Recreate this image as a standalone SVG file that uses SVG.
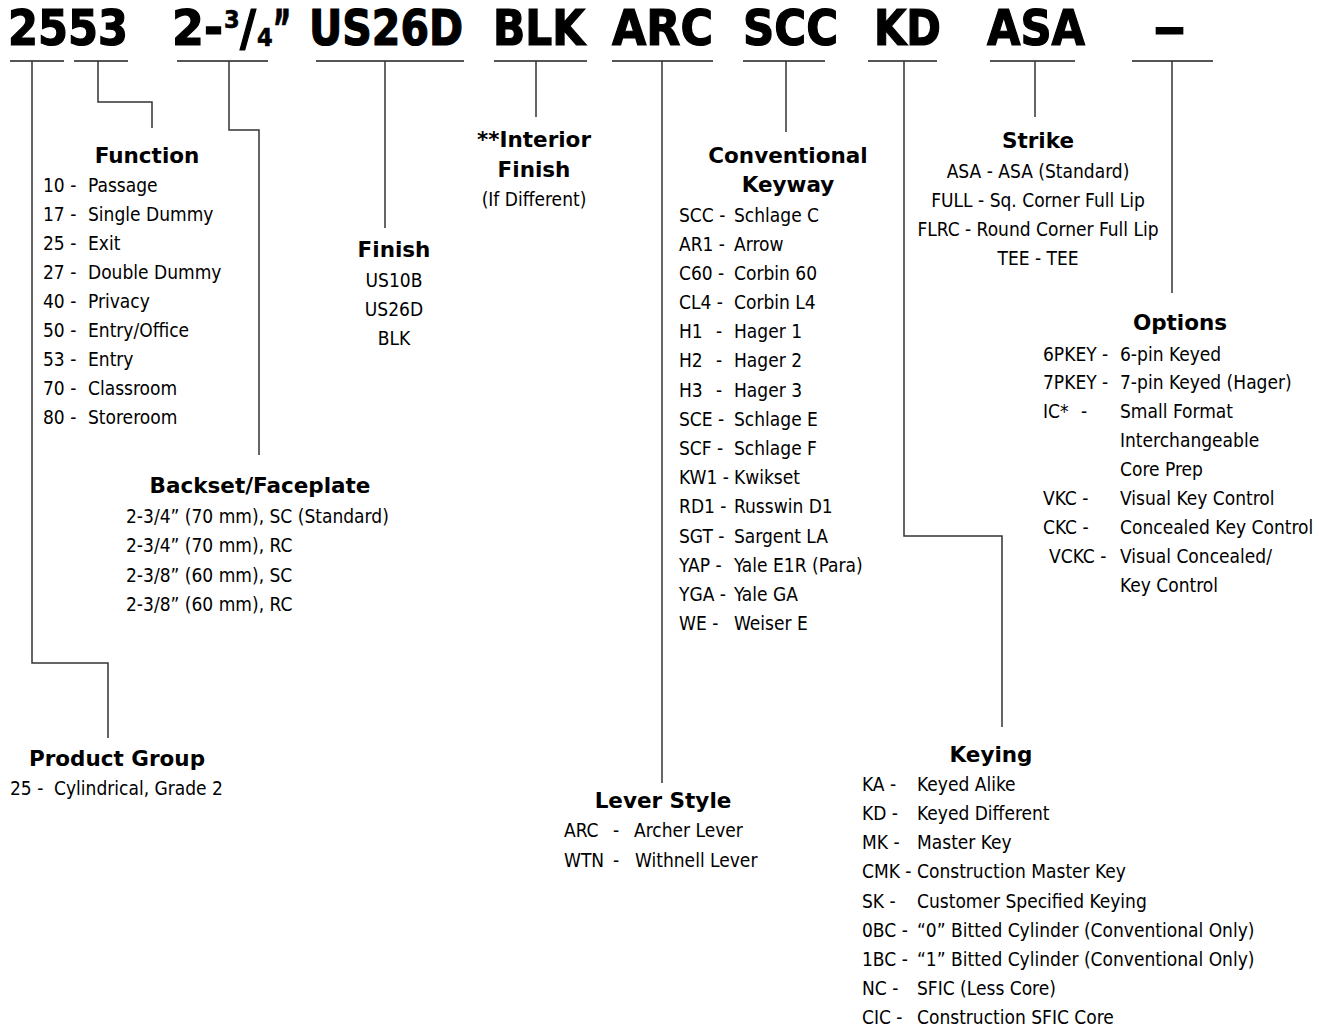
<svg xmlns="http://www.w3.org/2000/svg" width="1319" height="1031" viewBox="0 0 1319 1031">
<style>
.ttl{font-family:"DejaVu Sans Condensed","DejaVu Sans",sans-serif;font-weight:bold;font-size:50px;fill:#000;stroke:#000;stroke-width:1.2}
.sm{font-family:"DejaVu Sans Condensed","DejaVu Sans",sans-serif;font-weight:bold;font-size:25px;fill:#000;stroke:#000;stroke-width:0.6}
.h{font-family:"DejaVu Sans",sans-serif;font-weight:bold;font-size:21.5px;fill:#000;text-anchor:middle}
.t{font-family:"DejaVu Sans Condensed","DejaVu Sans",sans-serif;font-size:19px;fill:#000}
.c{text-anchor:middle}
.ul{stroke:#555;stroke-width:2;fill:none}
.ln{stroke:#333;stroke-width:1.5;fill:none}
</style>
<rect width="1319" height="1031" fill="#fff"/>
<g id="code">
  <text class="ttl" x="8" y="45" textLength="120" lengthAdjust="spacingAndGlyphs">2553</text>
  <text class="ttl" x="172" y="45" textLength="51" lengthAdjust="spacingAndGlyphs">2-</text>
  <text class="sm" x="224" y="28">3</text>
  <text class="ttl" x="240" y="45" textLength="16" lengthAdjust="spacingAndGlyphs">/</text>
  <text class="sm" x="257" y="46">4</text>
  <text class="ttl" x="273" y="45" textLength="18" lengthAdjust="spacingAndGlyphs">”</text>
  <text class="ttl" x="309" y="45" textLength="154" lengthAdjust="spacingAndGlyphs">US26D</text>
  <text class="ttl" x="493" y="45" textLength="92" lengthAdjust="spacingAndGlyphs">BLK</text>
  <text class="ttl" x="612" y="45" textLength="101" lengthAdjust="spacingAndGlyphs">ARC</text>
  <text class="ttl" x="743" y="45" textLength="95" lengthAdjust="spacingAndGlyphs">SCC</text>
  <text class="ttl" x="874" y="45" textLength="67" lengthAdjust="spacingAndGlyphs">KD</text>
  <text class="ttl" x="987" y="45" textLength="98" lengthAdjust="spacingAndGlyphs">ASA</text>
  <text class="ttl" x="1153" y="45" textLength="33" lengthAdjust="spacingAndGlyphs">–</text>
</g>
<g id="connectors">
  <path class="ul" d="M10,61H64M74,61H128M177,61H268M316,61H464M494,61H587M612,61H713M743,61H825M868,61H937M990,61H1075M1132,61H1213"/>
  <path class="ln" d="M32,61V663H108V738"/>
  <path class="ln" d="M98,61V102H152V128"/>
  <path class="ln" d="M229,61V130H259V455"/>
  <path class="ln" d="M385,61V228"/>
  <path class="ln" d="M536,61V117"/>
  <path class="ln" d="M662,61V783"/>
  <path class="ln" d="M786,61V132"/>
  <path class="ln" d="M904,61V536H1002V727"/>
  <path class="ln" d="M1035,61V117"/>
  <path class="ln" d="M1172,61V293"/>
</g>
<g id="function">
  <text class="h" x="147" y="163">Function</text>
  <text class="t" y="192"><tspan x="43">10 -</tspan><tspan x="88">Passage</tspan></text>
  <text class="t" y="221"><tspan x="43">17 -</tspan><tspan x="88">Single Dummy</tspan></text>
  <text class="t" y="250"><tspan x="43">25 -</tspan><tspan x="88">Exit</tspan></text>
  <text class="t" y="279"><tspan x="43">27 -</tspan><tspan x="88">Double Dummy</tspan></text>
  <text class="t" y="308"><tspan x="43">40 -</tspan><tspan x="88">Privacy</tspan></text>
  <text class="t" y="337"><tspan x="43">50 -</tspan><tspan x="88">Entry/Office</tspan></text>
  <text class="t" y="366"><tspan x="43">53 -</tspan><tspan x="88">Entry</tspan></text>
  <text class="t" y="395"><tspan x="43">70 -</tspan><tspan x="88">Classroom</tspan></text>
  <text class="t" y="424"><tspan x="43">80 -</tspan><tspan x="88">Storeroom</tspan></text>
</g>
<g id="backset">
  <text class="h" x="260" y="493">Backset/Faceplate</text>
  <text class="t" x="126" y="523">2-3/4” (70 mm), SC (Standard)</text>
  <text class="t" x="126" y="552">2-3/4” (70 mm), RC</text>
  <text class="t" x="126" y="582">2-3/8” (60 mm), SC</text>
  <text class="t" x="126" y="611">2-3/8” (60 mm), RC</text>
</g>
<g id="product-group">
  <text class="h" x="117" y="766">Product Group</text>
  <text class="t" y="795"><tspan x="10">25 -</tspan><tspan x="54">Cylindrical, Grade 2</tspan></text>
</g>
<g id="finish">
  <text class="h" x="394" y="257">Finish</text>
  <text class="t c" x="394" y="287">US10B</text>
  <text class="t c" x="394" y="316">US26D</text>
  <text class="t c" x="394" y="345">BLK</text>
</g>
<g id="interior-finish">
  <text class="h" x="534" y="147">**Interior</text>
  <text class="h" x="534" y="177">Finish</text>
  <text class="t c" x="534" y="206">(If Different)</text>
</g>
<g id="lever-style">
  <text class="h" x="663" y="808">Lever Style</text>
  <text class="t" y="837"><tspan x="564">ARC</tspan><tspan x="613">-</tspan><tspan x="634">Archer Lever</tspan></text>
  <text class="t" y="867"><tspan x="564">WTN</tspan><tspan x="613">-</tspan><tspan x="635">Withnell Lever</tspan></text>
</g>
<g id="keyway">
  <text class="h" x="788" y="163">Conventional</text>
  <text class="h" x="788" y="192">Keyway</text>
  <text class="t" y="222"><tspan x="679">SCC -</tspan><tspan x="734">Schlage C</tspan></text>
  <text class="t" y="251"><tspan x="679">AR1 -</tspan><tspan x="734">Arrow</tspan></text>
  <text class="t" y="280"><tspan x="679">C60 -</tspan><tspan x="734">Corbin 60</tspan></text>
  <text class="t" y="309"><tspan x="679">CL4 -</tspan><tspan x="734">Corbin L4</tspan></text>
  <text class="t" y="338"><tspan x="679">H1</tspan><tspan x="716">-</tspan><tspan x="734">Hager 1</tspan></text>
  <text class="t" y="367"><tspan x="679">H2</tspan><tspan x="716">-</tspan><tspan x="734">Hager 2</tspan></text>
  <text class="t" y="397"><tspan x="679">H3</tspan><tspan x="716">-</tspan><tspan x="734">Hager 3</tspan></text>
  <text class="t" y="426"><tspan x="679">SCE -</tspan><tspan x="734">Schlage E</tspan></text>
  <text class="t" y="455"><tspan x="679">SCF -</tspan><tspan x="734">Schlage F</tspan></text>
  <text class="t" y="484"><tspan x="679">KW1 -</tspan><tspan x="734">Kwikset</tspan></text>
  <text class="t" y="513"><tspan x="679">RD1 -</tspan><tspan x="734">Russwin D1</tspan></text>
  <text class="t" y="543"><tspan x="679">SGT -</tspan><tspan x="734">Sargent LA</tspan></text>
  <text class="t" y="572"><tspan x="679">YAP -</tspan><tspan x="734">Yale E1R (Para)</tspan></text>
  <text class="t" y="601"><tspan x="679">YGA -</tspan><tspan x="734">Yale GA</tspan></text>
  <text class="t" y="630"><tspan x="679">WE -</tspan><tspan x="734">Weiser E</tspan></text>
</g>
<g id="keying">
  <text class="h" x="991" y="762">Keying</text>
  <text class="t" y="791"><tspan x="862">KA -</tspan><tspan x="917">Keyed Alike</tspan></text>
  <text class="t" y="820"><tspan x="862">KD -</tspan><tspan x="917">Keyed Different</tspan></text>
  <text class="t" y="849"><tspan x="862">MK -</tspan><tspan x="917">Master Key</tspan></text>
  <text class="t" y="878"><tspan x="862">CMK -</tspan><tspan x="917">Construction Master Key</tspan></text>
  <text class="t" y="908"><tspan x="862">SK -</tspan><tspan x="917">Customer Specified Keying</tspan></text>
  <text class="t" y="937"><tspan x="862">0BC -</tspan><tspan x="917">“0” Bitted Cylinder (Conventional Only)</tspan></text>
  <text class="t" y="966"><tspan x="862">1BC -</tspan><tspan x="917">“1” Bitted Cylinder (Conventional Only)</tspan></text>
  <text class="t" y="995"><tspan x="862">NC -</tspan><tspan x="917">SFIC (Less Core)</tspan></text>
  <text class="t" y="1024"><tspan x="862">CIC -</tspan><tspan x="917">Construction SFIC Core</tspan></text>
</g>
<g id="strike">
  <text class="h" x="1038" y="148">Strike</text>
  <text class="t c" x="1038" y="178">ASA - ASA (Standard)</text>
  <text class="t c" x="1038" y="207">FULL - Sq. Corner Full Lip</text>
  <text class="t c" x="1038" y="236">FLRC - Round Corner Full Lip</text>
  <text class="t c" x="1038" y="265">TEE - TEE</text>
</g>
<g id="options">
  <text class="h" x="1180" y="330">Options</text>
  <text class="t" y="361"><tspan x="1043">6PKEY -</tspan><tspan x="1120">6-pin Keyed</tspan></text>
  <text class="t" y="389"><tspan x="1043">7PKEY -</tspan><tspan x="1120">7-pin Keyed (Hager)</tspan></text>
  <text class="t" y="418"><tspan x="1043">IC*</tspan><tspan x="1081">-</tspan><tspan x="1120">Small Format</tspan></text>
  <text class="t" x="1120" y="447">Interchangeable</text>
  <text class="t" x="1120" y="476">Core Prep</text>
  <text class="t" y="505"><tspan x="1043">VKC -</tspan><tspan x="1120">Visual Key Control</tspan></text>
  <text class="t" y="534"><tspan x="1043">CKC -</tspan><tspan x="1120">Concealed Key Control</tspan></text>
  <text class="t" y="563"><tspan x="1049">VCKC -</tspan><tspan x="1120">Visual Concealed/</tspan></text>
  <text class="t" x="1120" y="592">Key Control</text>
</g>
</svg>
